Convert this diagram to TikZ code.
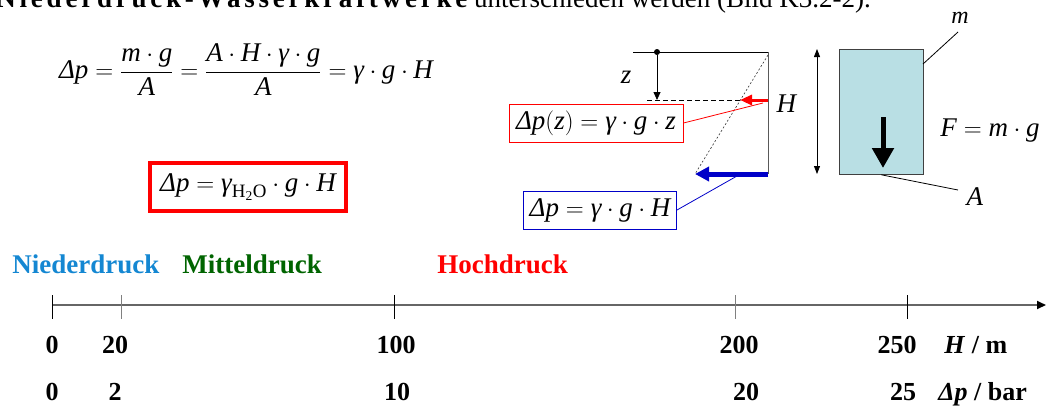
\documentclass[tikz,border=0pt]{standalone}
\usepackage{amsmath}
\usepackage{fontspec}
\setmainfont{Liberation Serif}
\usetikzlibrary{arrows.meta}
\definecolor{nblue}{RGB}{20,135,210}
\definecolor{mgreen}{RGB}{0,100,0}
\definecolor{hred}{RGB}{255,0,0}
\definecolor{dblue}{RGB}{0,0,200}
\definecolor{wbox}{RGB}{185,223,228}
\newcommand{\mv}[1]{\textit{#1}}
\newcommand{\bigfont}{\fontsize{27}{32}\selectfont}
\newcommand{\numfont}{\fontsize{26}{30}\selectfont\bfseries}

\begin{document}
\begin{tikzpicture}[x=1pt,y=-1pt,line width=.8pt,
  lbl/.style={font=\bigfont,inner sep=0pt},
  num/.style={font=\numfont,anchor=base,inner sep=0pt},
  eqbox/.style={draw,line width=1pt,font=\bigfont,inner sep=0pt,minimum height=38pt}]
\useasboundingbox (0,0) rectangle (1046,405);
\clip (0,0) rectangle (1046,405);
% running text, cut off at the top
\node[lbl,anchor=base west] (ctx) at (-4,7) {{\bfseries\addfontfeature{LetterSpace=14}Niederdruck-Wasserkraftwerke} unterschieden werden (Bild K3.2-2).};
% formulas
\node[lbl] (eqA) at (246,70) {$\mv{Δp}=\dfrac{\mv{m}\cdot\mv{g}}{\mv{A}}=\dfrac{\mv{A}\cdot\mv{H}\cdot\mv{γ}\cdot\mv{g}}{\mv{A}}=\mv{γ}\cdot\mv{g}\cdot\mv{H}$};
\node[eqbox,draw=hred,line width=4pt,minimum width=196pt,minimum height=48pt] (eqB) at (248,187) {$\mv{Δp}=\mv{γ}_{\mathrm{H_2O}}\cdot\mv{g}\cdot\mv{H}$};
% water column
\coordinate (ws) at (633,52);
\coordinate (wr) at (768,52);
\coordinate (wb) at (768,174);
\coordinate (zl) at (647,100);
\coordinate (zr) at (768,100);
\coordinate (ztip) at (740,100);
\coordinate (zend) at (657,100);
\coordinate (btip) at (695,174);
\node[circle,fill,inner sep=0pt,minimum size=6pt] (zdot) at (657,52) {};
\draw (ws)--(wr);
\draw[gray!70!black] (wr)--(wb);
\draw[-{Triangle[length=8pt,width=7pt]}] (zdot)--(zend);
\node[lbl] (zlab) at (626,77) {\mv{z}};
\draw[dash pattern=on 5pt off 3pt] (zl)--(ztip);
\draw[gray!40!black,line width=.6pt,dash pattern=on 2pt off 2pt] (768,55)--(btip);
\draw[hred,line width=3pt,-{Triangle[length=12pt,width=10pt]}] (zr)--(ztip);
\draw[dblue,line width=5pt,-{Triangle[length=14pt,width=14pt]}] (wb)--(btip);
\node[lbl] (hlab) at (787,104) {\mv{H}};
\node[eqbox,draw=hred,minimum width=174pt] (eqz) at (596,123) {$\mv{Δp}(\mv{z})=\mv{γ}\cdot\mv{g}\cdot\mv{z}$};
\coordinate (rp) at (763,103);
\draw[hred] (eqz.east)--(rp);
\node[eqbox,draw=dblue,minimum width=153pt] (eqH) at (600,210) {$\mv{Δp}=\mv{γ}\cdot\mv{g}\cdot\mv{H}$};
\coordinate (bp) at (737,176);
\draw[dblue] (eqH.east)--(bp);
% mass block
\coordinate (ht) at (817,49);
\coordinate (hb) at (817,174);
\draw[{Triangle[length=8pt,width=6pt]}-{Triangle[length=8pt,width=6pt]}] (ht)--(hb);
\node[draw=gray!50!black,fill=wbox,minimum width=84pt,minimum height=125pt,inner sep=0pt,anchor=north west] (mass) at (839,49) {};
\coordinate (ft) at (883,117);
\coordinate (fb) at (883,168);
\draw[line width=5pt,-{Triangle[length=20pt,width=21pt]}] (ft)--(fb);
\node[lbl,font=\fontsize{24}{28}\selectfont] (mlab) at (960,18) {\mv{m}};
\coordinate (mp) at (923,64);
\coordinate (mq) at (958,32);
\draw (mp)--(mq);
\node[lbl] (alab) at (975,197) {\mv{A}};
\coordinate (aq) at (958,190);
\draw (mass.south)--(aq);
\node[lbl] (flab) at (990,131) {$\mv{F}=\mv{m}\cdot\mv{g}$};
% scale
\node[lbl,anchor=base west,font=\bigfont\bfseries,text=nblue] (nd) at (12,273) {Niederdruck};
\node[lbl,anchor=base west,font=\bigfont\bfseries,text=mgreen] (md) at (182,273) {Mitteldruck};
\node[lbl,anchor=base west,font=\bigfont\bfseries,text=hred] (hd) at (437,273) {Hochdruck};
\coordinate (ax0) at (52,305);
\coordinate (axe) at (1046,305);
\draw[gray!80!black,line width=1.8pt,-{Triangle[length=9pt,width=8pt,color=black]}] (ax0)--(axe);
\foreach \x/\c in {52/black,121/gray,394/black,735/gray,907/black}
  \draw[\c,line width=1pt] (\x,295)--(\x,319);
\foreach \x/\h/\p/\q in {52/0/52/0,115/20/115/2,396/100/397/10,739/200/746/20,897/250/903/25}{
  \node[num] (h\h) at (\x,353) {\h};
  \node[num] (p\q) at (\p,400) {\q};
}
\node[num,anchor=base west] (hunit) at (944,353) {\textit{H} / m};
\node[num,anchor=base west] (punit) at (938,400) {\textit{Δp} / bar};
\end{tikzpicture}
\end{document}
